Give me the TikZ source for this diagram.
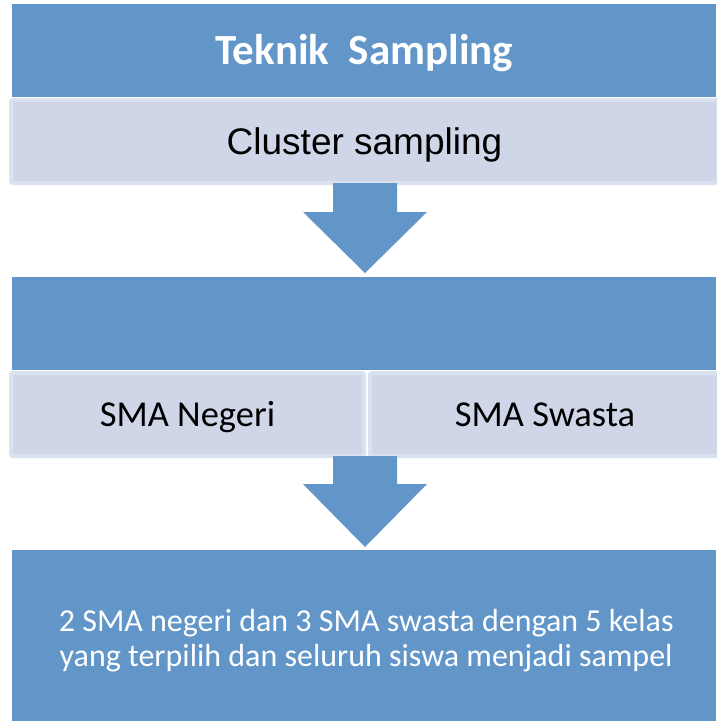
\documentclass[tikz,border=0pt]{standalone}
\usepackage{fontspec}
\setmainfont{Carlito}
\newfontfamily\arialf{Liberation Sans}
\usetikzlibrary{calc}
\definecolor{boxblue}{RGB}{98,150,201}
\definecolor{boxlight}{RGB}{206,214,232}
\definecolor{boxedge}{RGB}{219,226,239}
\tikzset{
  bluebox/.style={fill=boxblue, draw=none, anchor=north west, inner sep=0pt, text=white, align=center},
  lightbox/.style={fill=boxlight, draw=boxedge, line width=4pt, rounded corners=2pt, anchor=north west, inner sep=0pt, text=black, align=center},
  flowarrow/.style={fill=boxblue, draw=none}
}
\begin{document}
\begin{tikzpicture}[x=1pt,y=-1pt]
\useasboundingbox (0,0) rectangle (716,721);
\fill[white] (0,0) rectangle (716,721);
% top title box
\node[bluebox, minimum width=704pt, minimum height=93pt,
      font=\fontsize{43}{50}\selectfont\bfseries, text height=27.7pt, text depth=-1pt] (title) at (12,4)
  {Teknik\ \ Sampling};
% cluster sampling box
\node[lightbox, minimum width=707pt, minimum height=83pt,
      font=\arialf\fontsize{37}{44}\selectfont, text height=26.5pt, text depth=-4pt] (cluster) at (9,98)
  {Cluster sampling};
% second blue box
\node[bluebox, minimum width=704pt, minimum height=93pt] (mid) at (12,277) {};
% SMA boxes
\node[lightbox, minimum width=353pt, minimum height=83pt,
      font=\fontsize{36.5}{43}\selectfont, text height=23.5pt, text depth=-7pt] (negeri) at (9,371)
  {SMA Negeri};
\node[lightbox, minimum width=350pt, minimum height=83pt,
      font=\fontsize{36.5}{43}\selectfont, text height=23.5pt, text depth=-7pt] (swasta) at (368,371)
  {SMA Swasta};
% bottom box
\node[bluebox, minimum width=704pt, minimum height=175pt] (result) at (12,550) {};
\node[text=white, align=center, inner sep=0pt, font=\fontsize{32}{35}\selectfont]
  (resulttext) at ($(result.center)+(2,3)$)
  {2 SMA negeri dan 3 SMA swasta dengan 5 kelas\\
   yang terpilih dan seluruh siswa menjadi sampel};
% arrow 1
\coordinate (a1s) at (365,183);
\coordinate (a1t) at (365,273);
\fill[flowarrow] ($(a1s)+(-32,0)$) -- ($(a1s)+(32,0)$) -- ($(a1s)+(32,29)$) -- ($(a1s)+(62,29)$)
  -- (a1t) -- ($(a1s)+(-62,29)$) -- ($(a1s)+(-32,29)$) -- cycle;
% arrow 2
\coordinate (a2s) at (365,456);
\coordinate (a2t) at (365,547);
\fill[flowarrow] ($(a2s)+(-32,0)$) -- ($(a2s)+(32,0)$) -- ($(a2s)+(32,28)$) -- ($(a2s)+(62,28)$)
  -- (a2t) -- ($(a2s)+(-62,28)$) -- ($(a2s)+(-32,28)$) -- cycle;
\end{tikzpicture}
\end{document}
